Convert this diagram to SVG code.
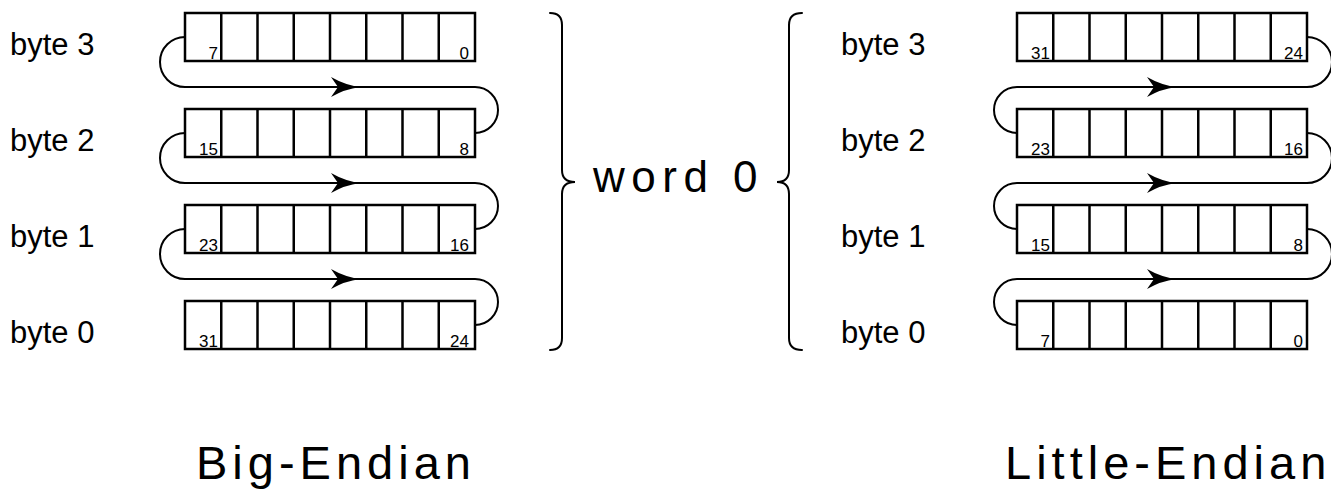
<svg xmlns="http://www.w3.org/2000/svg" xmlns:xlink="http://www.w3.org/1999/xlink" width="1331" height="490" viewBox="0 0 1331 490">
  <style>
    text { font-family: "Liberation Sans", Arial, sans-serif; fill: #000; }
    .byte { font-size: 31px; }
    .bit { font-size: 17px; }
    .title { font-size: 47px; letter-spacing: 5px; }
    .word { font-size: 44px; letter-spacing: 6.5px; }
    .reg rect, .reg path { fill: #fff; stroke: #000; stroke-width: 2.5; }
    .flow { fill: none; stroke: #000; stroke-width: 2; }
    .brace { fill: none; stroke: #000; stroke-width: 2; stroke-linecap: round; }
    .arw { fill: #000; stroke: none; }
  </style>
  <defs>
    <!-- one byte: a 290x48 register split into eight bit cells -->
    <g id="reg" class="reg">
      <rect x="0" y="0" width="290" height="48"/>
      <path d="M36.25,0V48M72.5,0V48M108.75,0V48M145,0V48M181.25,0V48M217.5,0V48M253.75,0V48"/>
    </g>
    <!-- swept arrowhead, tip at the origin, pointing right -->
    <path id="arw" d="M0,0 Q-15,-2 -29,-10 L-22,0 L-29,10 Q-15,2 0,0 Z"/>
  </defs>

  <!-- byte row labels -->
  <g id="labels-left">
    <text class="byte" x="10" y="55">byte 3</text>
    <text class="byte" x="10" y="151">byte 2</text>
    <text class="byte" x="10" y="247">byte 1</text>
    <text class="byte" x="10" y="343">byte 0</text>
  </g>
  <g id="labels-right">
    <text class="byte" x="841" y="55">byte 3</text>
    <text class="byte" x="841" y="151">byte 2</text>
    <text class="byte" x="841" y="247">byte 1</text>
    <text class="byte" x="841" y="343">byte 0</text>
  </g>

  <!-- connectors: bit order snaking through the bytes -->
  <g id="connectors">
    <path class="flow" d="M185,37 A25,25 0 0 0 185,87 L475,87 A23,23 0 0 1 475,133"/>
    <path class="flow" d="M185,133 A25,25 0 0 0 185,183 L475,183 A23,23 0 0 1 475,229"/>
    <path class="flow" d="M185,229 A25,25 0 0 0 185,279 L475,279 A23,23 0 0 1 475,325"/>
    <use href="#arw" xlink:href="#arw" class="arw" x="360" y="87"/>
    <use href="#arw" xlink:href="#arw" class="arw" x="360" y="183"/>
    <use href="#arw" xlink:href="#arw" class="arw" x="360" y="279"/>

    <path class="flow" d="M1307,37 A25,25 0 0 1 1307,87 L1017,87 A23,23 0 0 0 1017,133"/>
    <path class="flow" d="M1307,133 A25,25 0 0 1 1307,183 L1017,183 A23,23 0 0 0 1017,229"/>
    <path class="flow" d="M1307,229 A25,25 0 0 1 1307,279 L1017,279 A23,23 0 0 0 1017,325"/>
    <use href="#arw" xlink:href="#arw" class="arw" x="1176" y="87"/>
    <use href="#arw" xlink:href="#arw" class="arw" x="1176" y="183"/>
    <use href="#arw" xlink:href="#arw" class="arw" x="1176" y="279"/>
  </g>

  <!-- Big-Endian registers -->
  <g id="be-byte3">
    <use href="#reg" xlink:href="#reg" x="185" y="13"/>
    <text class="bit" x="218" y="59" text-anchor="end">7</text>
    <text class="bit" x="469" y="59" text-anchor="end">0</text>
  </g>
  <g id="be-byte2">
    <use href="#reg" xlink:href="#reg" x="185" y="109"/>
    <text class="bit" x="218" y="155" text-anchor="end">15</text>
    <text class="bit" x="469" y="155" text-anchor="end">8</text>
  </g>
  <g id="be-byte1">
    <use href="#reg" xlink:href="#reg" x="185" y="205"/>
    <text class="bit" x="218" y="251" text-anchor="end">23</text>
    <text class="bit" x="469" y="251" text-anchor="end">16</text>
  </g>
  <g id="be-byte0">
    <use href="#reg" xlink:href="#reg" x="185" y="301"/>
    <text class="bit" x="218" y="347" text-anchor="end">31</text>
    <text class="bit" x="469" y="347" text-anchor="end">24</text>
  </g>

  <!-- Little-Endian registers -->
  <g id="le-byte3">
    <use href="#reg" xlink:href="#reg" x="1017" y="13"/>
    <text class="bit" x="1050" y="59" text-anchor="end">31</text>
    <text class="bit" x="1303" y="59" text-anchor="end">24</text>
  </g>
  <g id="le-byte2">
    <use href="#reg" xlink:href="#reg" x="1017" y="109"/>
    <text class="bit" x="1050" y="155" text-anchor="end">23</text>
    <text class="bit" x="1303" y="155" text-anchor="end">16</text>
  </g>
  <g id="le-byte1">
    <use href="#reg" xlink:href="#reg" x="1017" y="205"/>
    <text class="bit" x="1050" y="251" text-anchor="end">15</text>
    <text class="bit" x="1303" y="251" text-anchor="end">8</text>
  </g>
  <g id="le-byte0">
    <use href="#reg" xlink:href="#reg" x="1017" y="301"/>
    <text class="bit" x="1050" y="347" text-anchor="end">7</text>
    <text class="bit" x="1303" y="347" text-anchor="end">0</text>
  </g>

  <!-- word braces and label -->
  <g id="word0">
    <path class="brace" d="M550,13 Q562,13 562,25 L562,170 Q562,182 575,182 Q562,182 562,194 L562,338 Q562,350 550,350"/>
    <path class="brace" d="M802,13 Q789,13 789,25 L789,170 Q789,182 777,182 Q789,182 789,194 L789,338 Q789,350 802,350"/>
    <text class="word" x="593" y="192">word 0</text>
  </g>

  <!-- titles -->
  <g id="titles">
    <text class="title" x="196" y="479">Big-Endian</text>
    <text class="title" x="1005" y="479">Little-Endian</text>
  </g>
</svg>
